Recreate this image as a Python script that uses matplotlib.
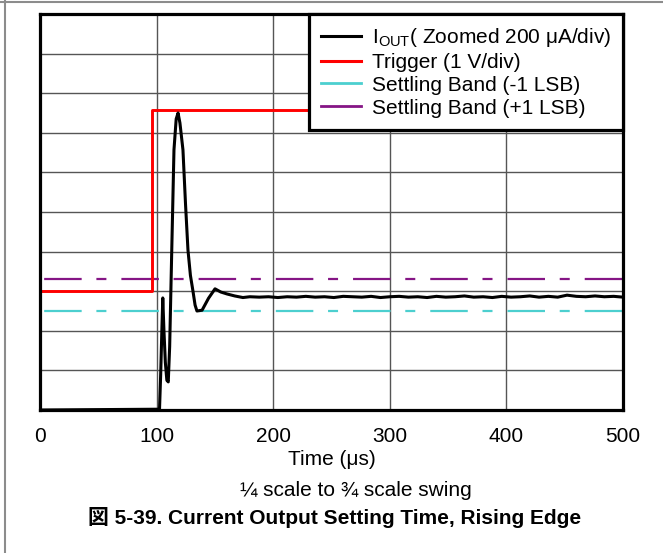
import matplotlib
matplotlib.use("Agg")
import matplotlib.pyplot as plt
from matplotlib.lines import Line2D

plt.rcParams['font.family'] = ['Liberation Sans', 'Noto Sans CJK JP', 'DejaVu Sans']
plt.rcParams['mathtext.fontset'] = 'custom'
plt.rcParams['mathtext.rm'] = 'Liberation Sans'
plt.rcParams['lines.scale_dashes'] = False

# ---- data (y in screen divisions, 0..10) ----
time_iout = [0, 102.5, 103.5, 104.5, 105.3, 106.3, 107.5, 108.8, 110.0, 111.2, 113.0, 114.9,
             116.8, 118.4, 120.0, 122.6, 124.8, 126.9, 129.0, 131.2, 133.0, 134.6, 139.0,
             144.5, 150.1, 155.0, 160.4, 167.0, 174.0, 180, 188, 196, 204, 212, 220, 228,
             236, 244, 252, 260, 268, 276, 284, 292, 300, 308, 316, 324, 332, 340, 348,
             356, 364, 372, 380, 388, 396, 404, 412, 420, 428, 436, 444, 452, 460, 468,
             476, 484, 492, 500]
iout = [0.0, 0.02, 0.9, 2.0, 2.83, 2.0, 1.2, 0.75, 0.71, 1.6, 4.04, 6.57,
        7.35, 7.5, 7.25, 6.57, 5.2, 4.04, 3.4, 3.0, 2.65, 2.5, 2.52,
        2.82, 3.06, 2.98, 2.93, 2.88, 2.84, 2.86, 2.85, 2.86, 2.84, 2.86, 2.85, 2.87,
        2.85, 2.86, 2.84, 2.87, 2.86, 2.85, 2.87, 2.84, 2.86, 2.87, 2.85, 2.86, 2.84, 2.87,
        2.85, 2.86, 2.88, 2.85, 2.86, 2.84, 2.87, 2.85, 2.86, 2.88, 2.85, 2.87, 2.85, 2.9,
        2.87, 2.86, 2.88, 2.86, 2.87, 2.85]

time_trig = [0, 96, 96, 500]
trigger = [3.0, 3.0, 7.58, 7.58]

band_minus = 2.5
band_plus = 3.3

xticks = [0, 100, 200, 300, 400, 500]
labels = [r'I$_{\mathrm{OUT}}$( Zoomed 200 μA/div)', 'Trigger (1 V/div)',
          'Settling Band (-1 LSB)', 'Settling Band (+1 LSB)']

# ---- figure ----
fig = plt.figure(figsize=(6.63, 5.53), dpi=100)
ax = fig.add_axes([40/663, 1 - 410/553, 583/663, 396/553])

ax.set_xlim(0, 500)
ax.set_ylim(0, 10)

for x in [100, 200, 300, 400]:
    ax.axvline(x, color='#555555', lw=1.0, zorder=1)
for y in range(1, 10):
    ax.axhline(y, color='#555555', lw=1.0, zorder=1)

c_black = 'black'
c_red = '#FF0000'
c_cyan = '#4CCFCF'
c_purple = '#851585'

dash = (52.6, (27, 10.6, 7.2, 10.8))
ax.plot([0, 500], [band_plus, band_plus], color=c_purple, lw=1.6, linestyle=dash, zorder=2)
ax.plot([0, 500], [band_minus, band_minus], color=c_cyan, lw=1.6, linestyle=dash, zorder=2)
ax.plot(time_trig, trigger, color=c_red, lw=2.1, zorder=3)
ax.plot(time_iout, iout, color=c_black, lw=2.2, zorder=4, solid_joinstyle='round')

ax.set_xticks(xticks)
ax.set_xticklabels([str(t) for t in xticks], fontsize=15)
ax.set_yticks([])
ax.tick_params(axis='x', length=0, pad=12)
ax.set_xlabel('Time (μs)', fontsize=15, labelpad=3)
for s in ax.spines.values():
    s.set_linewidth(2.3)
    s.set_zorder(6)

handles = [Line2D([], [], color=c_black, lw=2.2),
           Line2D([], [], color=c_red, lw=2.2),
           Line2D([], [], color=c_cyan, lw=2.0),
           Line2D([], [], color=c_purple, lw=2.0)]
leg = ax.legend(handles, labels, loc='upper right', borderaxespad=0, fontsize=15,
                fancybox=False, framealpha=1, edgecolor='black', handlelength=1.92,
                handletextpad=0.53, labelspacing=0.19, borderpad=0.57)
leg.get_frame().set_linewidth(2.3)
leg.set_zorder(7)

fig.text(356/663, 1 - 491/553, '¼ scale to ¾ scale swing', fontsize=15,
         ha='center', va='center')
fig.text(335/663, 1 - 518/553, '図 5-39. Current Output Setting Time, Rising Edge',
         fontsize=15, fontweight='bold', ha='center', va='center')

fig.add_artist(Line2D([4.5/663, 4.5/663], [0, 1], transform=fig.transFigure,
                      color='#8c8c8c', lw=1.5))
fig.add_artist(Line2D([0, 1], [1 - 1.5/553, 1 - 1.5/553], transform=fig.transFigure,
                      color='#8c8c8c', lw=1.5))

fig.savefig('out.png', dpi=100)
